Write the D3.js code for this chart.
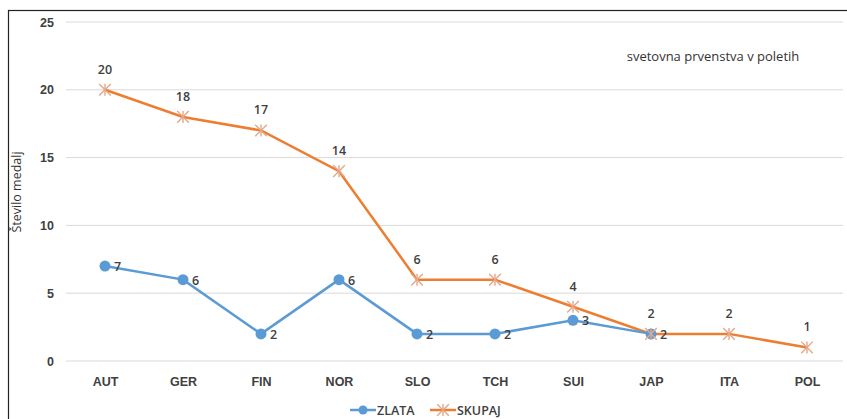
<!DOCTYPE html>
<html>
<head>
<meta charset="utf-8">
<script src="https://cdn.jsdelivr.net/npm/d3@7"></script>
<style>
  body { margin: 0; background: #fff; }
  svg { font-family: 'Open Sans', 'Liberation Sans', sans-serif; }
</style>
</head>
<body>
<div class="canvas"></div>
<script>
const countries = ['AUT', 'GER', 'FIN', 'NOR', 'SLO', 'TCH', 'SUI', 'JAP', 'ITA', 'POL'];
const zlata = [7, 6, 2, 6, 2, 2, 3, 2];
const skupaj = [20, 18, 17, 14, 6, 6, 4, 2, 2, 1];
const yTicks = [0, 5, 10, 15, 20, 25];

const blue = '#5b9bd5';
const orange = '#ed7d31';
const textColor = '#404040';

const svg = d3.select('.canvas')
  .append('svg')
  .attr('width', 847)
  .attr('height', 419);

// frame
svg.append('rect')
  .attr('x', 8.5).attr('y', 10.5)
  .attr('width', 850).attr('height', 420)
  .attr('fill', 'none')
  .attr('stroke', '#222')
  .attr('stroke-width', 1.2);

const x = d3.scalePoint().domain(countries).range([66, 846]).padding(0.5);
const y = d3.scaleLinear().domain([0, 25]).range([361, 22]);

// gridlines
svg.append('g')
  .selectAll('line')
  .data(yTicks)
  .join('line')
  .attr('x1', 66).attr('x2', 843)
  .attr('y1', d => y(d)).attr('y2', d => y(d))
  .attr('stroke', '#d9d9d9')
  .attr('stroke-width', 1);

const yAxis = svg.append('g')
  .attr('transform', 'translate(54,0)')
  .call(d3.axisLeft(y).tickValues(yTicks).tickSize(0).tickPadding(0));
yAxis.select('.domain').remove();
yAxis.selectAll('text')
  .attr('fill', textColor)
  .attr('font-size', 12.5)
  .attr('font-weight', 600);

const xAxis = svg.append('g')
  .attr('transform', 'translate(0,377)')
  .call(d3.axisBottom(x).tickSize(0).tickPadding(0));
xAxis.select('.domain').remove();
xAxis.selectAll('text')
  .attr('fill', textColor)
  .attr('font-size', 12.5)
  .attr('font-weight', 600);

svg.append('text')
  .attr('transform', 'translate(21,192) rotate(-90)')
  .attr('text-anchor', 'middle')
  .attr('fill', '#333')
  .attr('font-size', 12.5)
  .text('Število medalj');

svg.append('text')
  .attr('x', 713).attr('y', 61)
  .attr('text-anchor', 'middle')
  .attr('fill', '#333')
  .attr('font-size', 13)
  .text('svetovna prvenstva v poletih');

const line = d3.line()
  .x((d, i) => x(countries[i]))
  .y(d => y(d));

// SKUPAJ series
svg.append('path')
  .datum(skupaj)
  .attr('d', line)
  .attr('fill', 'none')
  .attr('stroke', orange)
  .attr('stroke-width', 2.5);

// ZLATA series
svg.append('path')
  .datum(zlata)
  .attr('d', line)
  .attr('fill', 'none')
  .attr('stroke', blue)
  .attr('stroke-width', 2.5);

svg.append('g')
  .selectAll('circle')
  .data(zlata)
  .join('circle')
  .attr('cx', (d, i) => x(countries[i]))
  .attr('cy', d => y(d))
  .attr('r', 5.5)
  .attr('fill', blue);

const star = d3.symbol().type(d3.symbolX).size(90);
const starMark = g => {
  g.append('path').attr('d', star()).attr('fill', 'none')
    .attr('stroke', '#e3a88a').attr('stroke-width', 1.4);
  g.append('line').attr('y1', -6).attr('y2', 6)
    .attr('stroke', '#e3a88a').attr('stroke-width', 1.4);
};

svg.append('g')
  .selectAll('g')
  .data(skupaj)
  .join('g')
  .attr('transform', (d, i) => `translate(${x(countries[i])},${y(d)})`)
  .each(function () { starMark(d3.select(this)); });

// labels
svg.append('g')
  .selectAll('text')
  .data(skupaj)
  .join('text')
  .attr('x', (d, i) => x(countries[i]))
  .attr('y', d => y(d) - 16)
  .attr('text-anchor', 'middle')
  .attr('fill', textColor)
  .attr('font-size', 12.5)
  .attr('font-weight', 600)
  .text(d => d);

svg.append('g')
  .selectAll('text')
  .data(zlata)
  .join('text')
  .attr('x', (d, i) => x(countries[i]) + 9)
  .attr('y', d => y(d) + 5)
  .attr('fill', textColor)
  .attr('font-size', 12.5)
  .attr('font-weight', 600)
  .text(d => d);

// legend
const legend = svg.append('g').attr('transform', 'translate(350,410)');
legend.append('line').attr('x1', 0).attr('x2', 26)
  .attr('stroke', blue).attr('stroke-width', 2.5);
legend.append('circle').attr('cx', 13).attr('r', 4.5).attr('fill', blue);
legend.append('text').attr('x', 27).attr('y', 5)
  .attr('fill', textColor).attr('font-size', 12.5).attr('font-weight', 600)
  .text('ZLATA');

const legend2 = legend.append('g').attr('transform', 'translate(80,0)');
legend2.append('line').attr('x1', 0).attr('x2', 26)
  .attr('stroke', orange).attr('stroke-width', 2.5);
legend2.append('g').attr('transform', 'translate(13,0)')
  .call(starMark);
legend2.append('text').attr('x', 27).attr('y', 5)
  .attr('fill', textColor).attr('font-size', 12.5).attr('font-weight', 600)
  .text('SKUPAJ');
</script>
</body>
</html>
